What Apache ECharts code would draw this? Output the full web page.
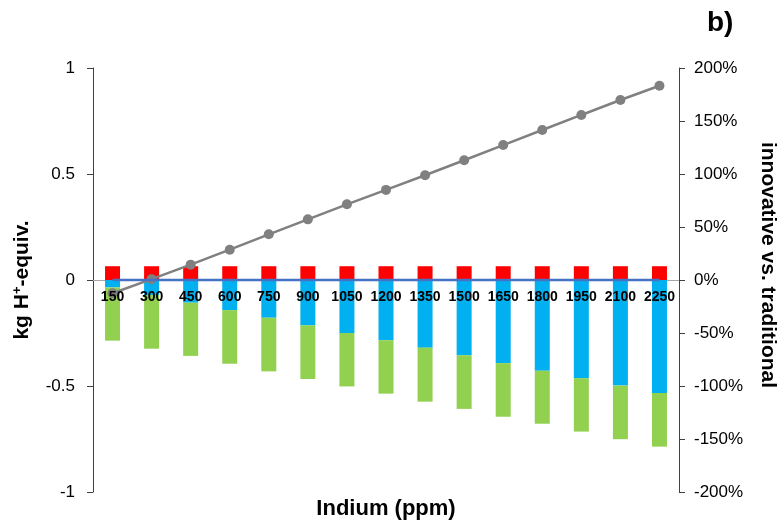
<!DOCTYPE html>
<html><head><meta charset="utf-8">
<script src="https://cdn.jsdelivr.net/npm/echarts@6/dist/echarts.min.js"></script>
<style>html,body{margin:0;padding:0;background:#fff}#c{width:780px;height:524px}</style>
</head><body><div id="c"></div>
<script>
var categories = ['150','300','450','600','750','900','1050','1200','1350','1500','1650','1800','1950','2100','2250'];
var redValues = [0.065,0.065,0.065,0.065,0.065,0.065,0.065,0.065,0.065,0.065,0.065,0.065,0.065,0.065,0.065];
var blueValues = [-0.035,-0.071,-0.107,-0.142,-0.178,-0.214,-0.250,-0.284,-0.319,-0.355,-0.392,-0.428,-0.463,-0.498,-0.533];
var greenValues = [-0.251,-0.253,-0.251,-0.253,-0.253,-0.253,-0.252,-0.252,-0.255,-0.253,-0.253,-0.250,-0.252,-0.253,-0.253];
var zeroLine = [0,0,0,0,0,0,0,0,0,0,0,0,0,0,0];
var linePercent = [-12.5,0.8,14.5,28.6,43.1,57.2,71.4,85.0,98.8,113.0,127.3,141.5,155.7,169.8,183.3];

var font = 'Liberation Sans, Arial, sans-serif';
var chart = echarts.init(document.getElementById('c'));
chart.setOption({
  animation: false,
  textStyle: {fontFamily: font},
  grid: {left: 93, right: 101, top: 68, bottom: 32},
  graphic: [
    {type: 'text', left: 707, top: 9, style: {text: 'b)', font: 'bold 28px ' + font, fill: '#000'}},
    {type: 'text', x: 386, y: 509, style: {text: 'Indium (ppm)', font: 'bold 22px ' + font, fill: '#000', align: 'center', verticalAlign: 'middle'}},
    {type: 'text', x: 768, y: 265, rotation: -Math.PI / 2, style: {text: 'innovative vs. traditional', font: 'bold 21px ' + font, fill: '#000', align: 'center', verticalAlign: 'middle'}}
  ],
  xAxis: {
    type: 'category', data: categories,
    axisLine: {onZero: true, onZeroAxisIndex: 0, lineStyle: {color: '#a6a6a6', width: 1}},
    axisTick: {show: false},
    axisLabel: {show: false}
  },
  yAxis: [{
    type: 'value', min: -1, max: 1, interval: 0.5,
    name: 'kg H{s|+}-equiv.', nameLocation: 'middle', nameGap: 59, nameRotate: 90,
    nameTextStyle: {fontSize: 21, fontWeight: 'bold', color: '#000', rich: {s: {fontSize: 13, fontWeight: 'bold', verticalAlign: 'top', padding: [0,0,10,0]}}},
    axisLine: {show: true, onZero: false, lineStyle: {color: '#404040'}},
    axisTick: {show: true, inside: false, length: 6, lineStyle: {color: '#404040'}},
    splitLine: {show: false},
    axisLabel: {fontSize: 17, color: '#000', margin: 18}
  }, {
    type: 'value', min: -200, max: 200, interval: 50, position: 'right',
    axisLine: {show: true, onZero: false, lineStyle: {color: '#404040'}},
    axisTick: {show: true, inside: false, length: 6, lineStyle: {color: '#404040'}},
    splitLine: {show: false},
    axisLabel: {fontSize: 17, color: '#000', margin: 15, formatter: '{value}%'}
  }],
  series: [
    {type: 'bar', stack: 'a', data: redValues, itemStyle: {color: '#FF0000'}, barWidth: 15},
    {type: 'bar', stack: 'a', data: blueValues, itemStyle: {color: '#00B0F0'}, barWidth: 15},
    {type: 'bar', stack: 'a', data: greenValues, itemStyle: {color: '#92D050'}, barWidth: 15},
    {type: 'line', data: zeroLine, symbol: 'circle', symbolSize: 0.1, itemStyle: {color: '#4472C4'},
     lineStyle: {color: '#4472C4', width: 2.5}, z: 5,
     label: {show: true, position: 'bottom', distance: 10, fontSize: 14, fontWeight: 'bold', color: '#000', fontFamily: font,
       formatter: function(p){ return p.name; }}},
    {type: 'line', yAxisIndex: 1, data: linePercent, symbol: 'circle', symbolSize: 10,
     itemStyle: {color: '#808080'}, lineStyle: {color: '#808080', width: 2.5}, z: 4}
  ]
});
</script></body></html>
